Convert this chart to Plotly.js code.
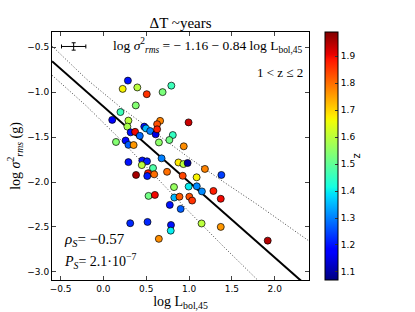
<!DOCTYPE html>
<html>
<head>
<meta charset="utf-8">
<script src="https://cdn.plot.ly/plotly-3.0.1.min.js"></script>
<style>html,body{margin:0;padding:0;background:#fff;}#chart{width:415px;height:312px;}</style>
</head>
<body>
<div id="chart"></div>
<script>
// log L_bol,45
const logL = [0.286,0.225,0.396,0.506,0.691,0.793,0.378,0.199,0.103,0.292,0.280,0.318,0.370,0.477,0.497,0.546,0.425,0.610,
  0.662,0.627,0.627,0.994,0.810,0.770,0.648,0.938,0.147,0.259,0.292,0.353,0.292,0.454,0.509,0.448,0.579,0.679,
  0.381,0.521,0.512,0.593,0.743,0.876,0.934,0.983,0.926,1.088,1.185,1.377,0.824,0.995,1.090,1.150,1.284,1.370,
  0.828,0.888,1.003,1.036,0.527,0.601,0.775,0.902,0.313,0.515,0.789,0.786,1.146,1.370,0.647,1.918];
// log sigma^2_rms
const logS = [-0.871,-0.963,-0.947,-1.022,-0.999,-0.927,-1.147,-1.221,-1.308,-1.316,-1.383,-1.447,-1.441,-1.383,-1.403,-1.432,-1.486,-1.469,
  -1.319,-1.356,-1.413,-1.336,-1.477,-1.532,-1.559,-1.602,-1.554,-1.538,-1.586,-1.588,-1.778,-1.760,-1.769,-1.811,-1.844,-1.736,
  -1.921,-1.902,-1.933,-1.914,-1.886,-1.782,-1.800,-1.788,-1.930,-1.947,-1.854,-1.921,-2.056,-2.050,-2.047,-2.104,-2.099,-2.186,
  -2.172,-2.163,-2.163,-2.206,-2.154,-2.143,-2.254,-2.299,-2.458,-2.444,-2.478,-2.541,-2.461,-2.499,-2.632,-2.652];
// redshift z
const zVals = [1.20,1.67,1.60,1.86,1.53,1.46,1.54,1.46,1.18,1.60,1.58,1.20,1.90,1.20,1.35,1.30,1.28,1.15,
  1.78,1.83,1.88,1.93,1.45,1.52,1.55,1.77,1.54,1.19,1.27,1.76,1.20,1.20,1.21,1.60,1.48,1.30,
  1.96,1.88,1.21,1.80,1.80,1.68,1.60,1.10,1.84,1.67,1.78,1.24,1.56,1.40,1.31,1.31,1.88,1.90,
  1.35,1.82,1.83,1.86,1.52,1.90,1.20,1.27,1.22,1.22,1.20,1.40,1.60,1.76,1.77,1.95];
// regression fit
const fitIntercept = -1.16, fitSlope = -0.84;
// dotted uncertainty bands
const bandX = [-0.6,-0.2,0.2,0.6,1.0,1.4,1.8,2.4];
const bandUpper = [-0.486,-0.852,-1.168,-1.454,-1.730,-1.996,-2.252,-2.656];
const bandLower = [-0.811,-1.152,-1.528,-1.934,-2.330,-2.716,-3.090,-3.696];
// typical error bar
const errX = [-0.347], errY = [-0.491], errXSize = [0.142], errYSize = [0.041];
const cbTicks = [1.1,1.2,1.3,1.4,1.5,1.6,1.7,1.8,1.9];
const xRange = [-0.6, 2.4], yRange = [-3.09, -0.33];

const jet = [[0,'rgb(0,0,128)'],[0.11,'rgb(0,0,255)'],[0.125,'rgb(0,0,255)'],[0.34,'rgb(0,219,255)'],
  [0.35,'rgb(0,229,247)'],[0.375,'rgb(20,255,226)'],[0.64,'rgb(239,255,8)'],[0.65,'rgb(247,246,0)'],
  [0.66,'rgb(255,236,0)'],[0.89,'rgb(255,19,0)'],[0.91,'rgb(232,0,0)'],[1,'rgb(128,0,0)']];

const fitX = xRange.slice();
const fitY = fitX.map(x => fitIntercept + fitSlope * x);
const serif = 'Liberation Serif, DejaVu Serif, serif';
const sans = 'DejaVu Sans, sans-serif';

const traces = [
  {x: bandX, y: bandUpper, mode: 'lines', line: {color: '#444', width: 1, dash: '1px,2px'}, hoverinfo: 'skip', showlegend: false},
  {x: bandX, y: bandLower, mode: 'lines', line: {color: '#444', width: 1, dash: '1px,2px'}, hoverinfo: 'skip', showlegend: false},
  {x: fitX, y: fitY, mode: 'lines', line: {color: 'black', width: 2}, showlegend: false},
  {x: logL, y: logS, mode: 'markers', showlegend: false,
    marker: {size: 7, color: zVals, colorscale: jet, cmin: 1.07, cmax: 1.99,
      line: {color: 'black', width: 0.7},
      colorbar: {x: 1.062, xanchor: 'left', y: 0.5, yanchor: 'middle', len: 1, lenmode: 'fraction',
        thickness: 13, xpad: 0, ypad: 0, outlinewidth: 1, outlinecolor: 'black',
        tickvals: cbTicks, ticktext: cbTicks.map(v => v.toFixed(1)), ticks: 'inside', ticklen: 3, tickcolor: '#333',
        tickfont: {family: sans, size: 9, color: 'black'}}}},
  {x: errX, y: errY, mode: 'markers', marker: {size: 1, color: 'black'}, showlegend: false,
    error_x: {type: 'data', array: errXSize, color: 'black', thickness: 1, width: 2},
    error_y: {type: 'data', array: errYSize, color: 'black', thickness: 1, width: 2}}
];

const layout = {
  width: 415, height: 312,
  margin: {l: 52, r: 106, t: 32, b: 32},
  paper_bgcolor: 'white', plot_bgcolor: 'white',
  showlegend: false,
  title: {text: 'ΔT ~years', font: {family: serif, size: 15, color: 'black'}, x: 0.435, xanchor: 'center', y: 0.91, yanchor: 'bottom'},
  xaxis: {range: xRange, tickvals: [-0.5,0,0.5,1,1.5,2], ticktext: ['\u22120.5','0.0','0.5','1.0','1.5','2.0'],
    ticks: 'inside', ticklen: 4, mirror: 'allticks', showline: true, linecolor: 'black', linewidth: 1,
    showgrid: false, zeroline: false, tickfont: {family: sans, size: 9, color: 'black'},
    title: {text: 'log L<sub>bol,45</sub>', font: {family: serif, size: 14, color: 'black'}, standoff: 1}},
  yaxis: {range: yRange, tickvals: [-3,-2.5,-2,-1.5,-1,-0.5], ticktext: ['\u22123.0','\u22122.5','\u22122.0','\u22121.5','\u22121.0','\u22120.5'],
    ticks: 'inside', ticklen: 4, mirror: 'allticks', showline: true, linecolor: 'black', linewidth: 1,
    showgrid: false, zeroline: false, tickfont: {family: sans, size: 9, color: 'black'},
    title: {text: 'log <i>σ</i><sup>2</sup><sub><i>rms</i></sub> (g)', font: {family: serif, size: 14, color: 'black'}, standoff: 3}},
  annotations: [
    {xref: 'paper', yref: 'paper', x: 0.985, y: 0.99, xanchor: 'right', yanchor: 'top', showarrow: false,
      text: 'log <i>σ</i><sup>2</sup><sub><i>rms</i></sub> = − 1.16 − 0.84 log L<sub>bol,45</sub>',
      font: {family: serif, size: 13.5, color: 'black'}},
    {xref: 'paper', yref: 'paper', x: 0.985, y: 0.875, xanchor: 'right', yanchor: 'top', showarrow: false,
      text: '1 &lt; z ≤ 2', font: {family: serif, size: 13, color: 'black'}},
    {xref: 'paper', yref: 'paper', x: 0.04, y: 0.16, xanchor: 'left', yanchor: 'middle', showarrow: false,
      text: '<i>ρ</i><sub><i>S</i></sub>= −0.57', font: {family: serif, size: 15, color: 'black'}},
    {xref: 'paper', yref: 'paper', x: 0.04, y: 0.075, xanchor: 'left', yanchor: 'middle', showarrow: false,
      text: '<i>P</i><sub><i>S</i></sub>= 2.1·10<sup>−7</sup>', font: {family: serif, size: 14, color: 'black'}},
    {xref: 'paper', yref: 'paper', x: 1.19, y: 0.5, xanchor: 'center', yanchor: 'middle', showarrow: false,
      text: 'z', textangle: 90, font: {family: sans, size: 10, color: 'black'}}
  ]
};

Plotly.newPlot('chart', traces, layout, {displayModeBar: false, staticPlot: true});
</script>
</body>
</html>
